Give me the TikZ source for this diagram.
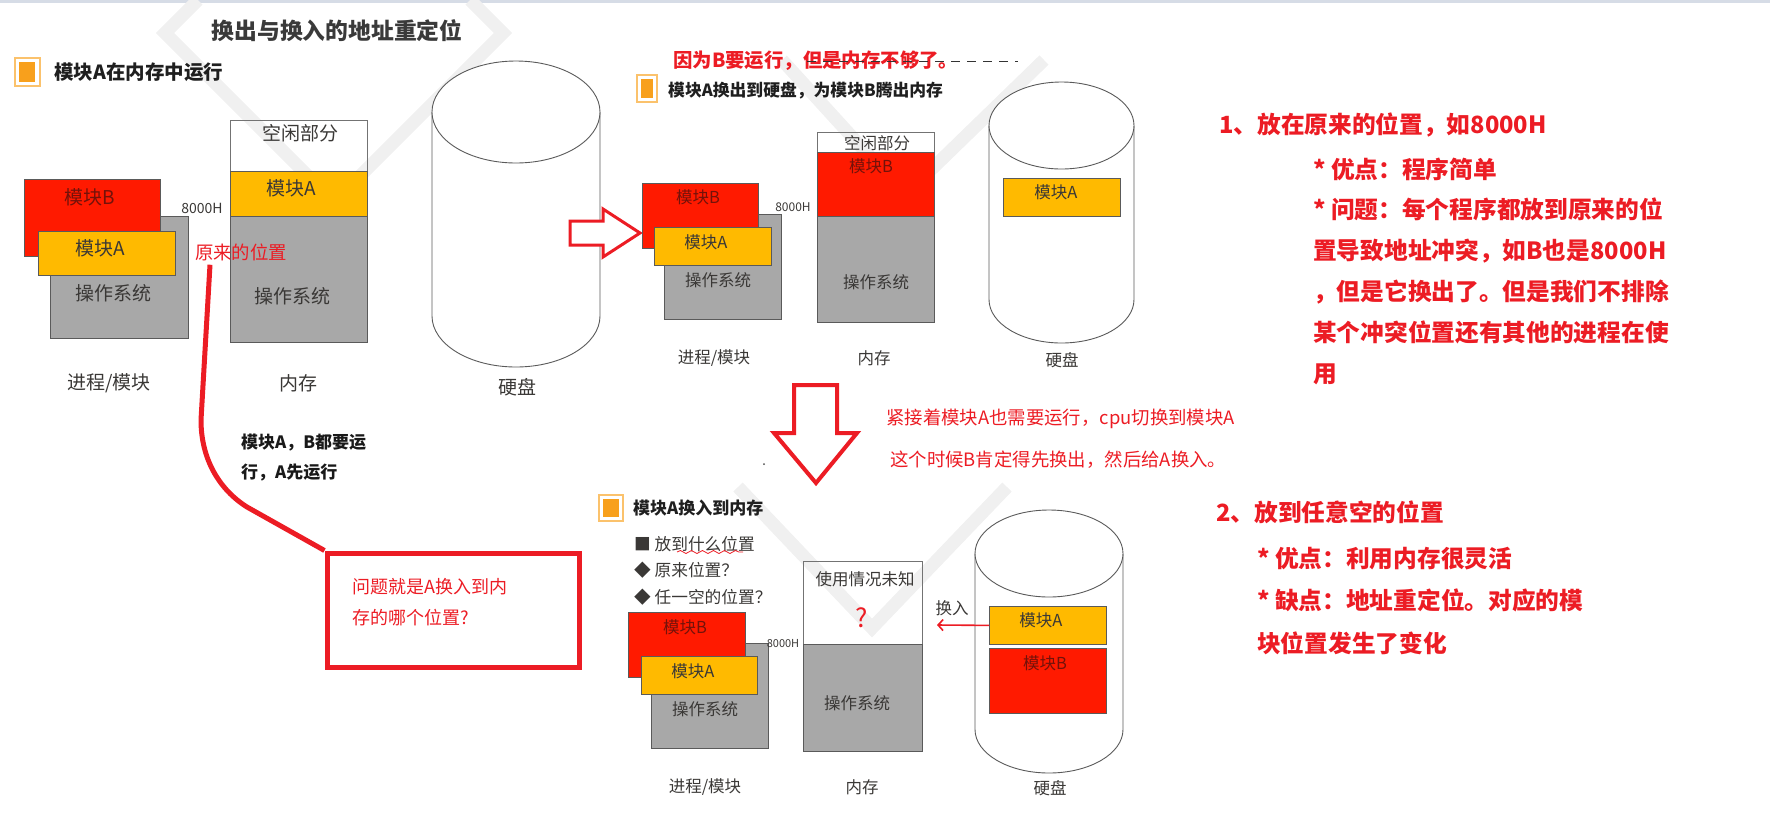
\documentclass[tikz,border=0pt]{standalone}
\usepackage{fontspec}
\setmainfont{Noto Sans CJK SC}
\usetikzlibrary{arrows.meta,decorations.pathmorphing}
\definecolor{modB}{RGB}{255,26,0}
\definecolor{modA}{RGB}{255,186,0}
\definecolor{osgray}{RGB}{168,168,168}
\definecolor{edgegray}{RGB}{90,90,90}
\definecolor{inkgray}{RGB}{58,56,54}
\definecolor{inkred}{RGB}{115,18,10}
\definecolor{titlegray}{RGB}{58,58,58}
\definecolor{notered}{RGB}{236,28,36}
\definecolor{bulframe}{RGB}{251,194,108}
\definecolor{bulfill}{RGB}{248,160,28}
\definecolor{markgray}{RGB}{240,240,240}
\definecolor{topbar}{RGB}{214,220,230}
\tikzset{
  blk/.style={draw=edgegray, line width=0.8pt, inner sep=0pt, anchor=north west},
  blkB/.style={blk, fill=modB},
  blkA/.style={blk, fill=modA},
  blkOS/.style={blk, fill=osgray},
  blkfree/.style={blk, draw=edgegray!85},
  diskline/.style={draw=edgegray, line width=0.9pt, fill=white},
  lblL/.style={font=\fontsize{19}{22}\selectfont, text=inkgray, inner sep=0pt},
  lblS/.style={font=\fontsize{16.5}{20}\selectfont, text=inkgray, inner sep=0pt},
  addr/.style={text=inkgray, inner sep=0pt},
  bullet/.style={draw=bulframe, line width=2pt, fill=white, inner sep=4pt},
  heading/.style={font=\bfseries\fontsize{16.8}{20}\selectfont, text=black!88, inner sep=0pt, anchor=west},
  note/.style={font=\fontsize{18.4}{22}\selectfont, text=notered, inner sep=0pt},
  listtext/.style={font=\fontsize{16.7}{26.5}\selectfont, text=inkgray, inner sep=0pt, anchor=west, align=left},
  sidetext/.style={font=\bfseries\fontsize{23.7}{28}\selectfont, text=notered, inner sep=0pt, anchor=west, align=left},
  hollowarrow/.style={draw=notered, line width=3pt, fill=white, line join=miter},
  swaparrow/.style={draw=notered, line width=1.6pt, -{Straight Barb[length=5pt,width=11pt]}},
  qbox/.style={draw=notered, line width=5pt, inner sep=0pt, anchor=north west},
  linkcurve/.style={draw=notered, line width=5pt},
  watermark/.style={draw=markgray, line width=13pt},
}
\begin{document}
\begin{tikzpicture}[x=1pt,y=-1pt]
\useasboundingbox (0,0) rectangle (1770,815);
\fill[topbar] (0,0) rectangle (1770,2.5);
\draw[watermark] (198,0) -- (165,33) -- (334,202) -- (503,33) -- (470,0);
\draw[watermark] (782,60) -- (905,195) -- (1044,60);
\draw[watermark] (738,487) -- (872,628) -- (1007,487);

\node[font=\bfseries\fontsize{22.8}{26}\selectfont, text=titlegray, inner sep=0pt] (title) at (337,31) {换出与换入的地址重定位};

% slide 1
\node[bullet] (b1) at (27,72) {\color{bulfill}\rule{17pt}{20pt}};
\node[heading, font=\bfseries\fontsize{19.5}{23}\selectfont] (h1) at (54,72) {模块A在内存中运行};
\node[blkOS, minimum width=138pt, minimum height=122pt] (p1OS) at (50,216) {};
\node[blkB, minimum width=136pt, minimum height=77pt] (p1B) at (24,179) {};
\node[blkA, minimum width=137pt, minimum height=44pt] (p1A) at (38,231) {};
\node[lblL, text=inkred] (t1B) at (90,197) {模块B};
\node[lblL] (t1A) at (100,248) {模块A};
\node[lblL] (t1OS) at (113,293) {操作系统};
\node[addr, font=\fontsize{14}{16}\selectfont] (a1) at (202,208) {8000H};
\node[blkfree, minimum width=137pt, minimum height=51pt] (m1F) at (230,120) {};
\node[blkA, minimum width=137pt, minimum height=45pt] (m1A) at (230,171) {};
\node[blkOS, minimum width=137pt, minimum height=126pt] (m1OS) at (230,216) {};
\node[lblL] (t1F) at (300,133) {空闲部分};
\node[lblL] (t1mA) at (291,188) {模块A};
\node[lblL] (t1mOS) at (292,296) {操作系统};
\node[note] (orig) at (241,252) {原来的位置};
\draw[diskline] (432,112) -- (432,316) arc[start angle=180, end angle=360, x radius=84pt, y radius=51pt] -- (600,112);
\draw[diskline] (516,112) ellipse[x radius=84pt, y radius=51pt];
\node[lblL] (l1P) at (109,383) {进程/模块};
\node[lblL] (l1M) at (298,383) {内存};
\node[lblL] (l1D) at (517,387) {硬盘};

% slide 2
\node[note, font=\bfseries\fontsize{19.4}{23}\selectfont, anchor=west] (why) at (673,61) {因为B要运行，但是内存不够了。};
\draw[black!80, line width=0.9pt, dash pattern=on 9pt off 7pt] (807,61) -- (1018,61);
\node[bullet] (b2) at (647,88.5) {\color{bulfill}\rule{12pt}{19pt}};
\node[heading] (h2) at (668,91) {模块A换出到硬盘，为模块B腾出内存};
\draw[hollowarrow] (570,221) -- (603,221) -- (603,209) -- (640,233) -- (603,257) -- (603,245) -- (570,245) -- cycle;
\node[blkOS, minimum width=117pt, minimum height=105pt] (p2OS) at (664,214) {};
\node[blkB, minimum width=116pt, minimum height=65pt] (p2B) at (642,183) {};
\node[blkA, minimum width=117pt, minimum height=38pt] (p2A) at (654,227) {};
\node[lblS, text=inkred] (t2B) at (698,197) {模块B};
\node[lblS] (t2A) at (706,242) {模块A};
\node[lblS] (t2OS) at (718,280) {操作系统};
\node[addr, font=\fontsize{12}{14}\selectfont] (a2) at (793,207) {8000H};
\node[blkfree, minimum width=117pt, minimum height=20pt] (m2F) at (817,132) {};
\node[blkB, minimum width=117pt, minimum height=64pt] (m2B) at (817,152) {};
\node[blkOS, minimum width=117pt, minimum height=106pt] (m2OS) at (817,216) {};
\node[lblS] (t2F) at (877,143) {空闲部分};
\node[lblS, text=inkred] (t2mB) at (871,166) {模块B};
\node[lblS] (t2mOS) at (876,282) {操作系统};
\draw[diskline] (989,125.5) -- (989,299.5) arc[start angle=180, end angle=360, x radius=72.5pt, y radius=43.5pt] -- (1134,125.5);
\draw[diskline] (1061.5,125.5) ellipse[x radius=72.5pt, y radius=43.5pt];
\node[blkA, minimum width=117pt, minimum height=38pt] (d2A) at (1003,178) {};
\node[lblS] (t2dA) at (1056,192) {模块A};
\node[lblS] (l2P) at (714,358) {进程/模块};
\node[lblS] (l2M) at (874,358) {内存};
\node[lblS] (l2D) at (1062,360) {硬盘};

% from slide 2 to slide 3
\draw[hollowarrow, line width=4pt] (794,385) -- (837,385) -- (837,433) -- (857,433) -- (816,483) -- (774,433) -- (794,433) -- cycle;
\node[note, anchor=west] (next1) at (886,419) {紧接着模块A也需要运行，cpu切换到模块A};
\node[note, anchor=west] (next2) at (890,460) {这个时候B肯定得先换出，然后给A换入。};
\fill[black!70] (764,464) circle[radius=1pt];

% slide 3
\node[bullet] (b3) at (611,508) {\color{bulfill}\rule{16pt}{18pt}};
\node[heading, font=\bfseries\fontsize{17}{20}\selectfont] (h3) at (633,508) {模块A换入到内存};
\node[listtext] (q3) at (634,570.5) {■ 放到什么位置\\◆ 原来位置？\\◆ 任一空的位置？};
\draw[notered, line width=0.8pt, decorate, decoration={snake, amplitude=1.5pt, segment length=11pt}] (677,552) -- (743,552);
\node[blkOS, minimum width=117pt, minimum height=105pt] (p3OS) at (651,643) {};
\node[blkB, minimum width=117pt, minimum height=65pt] (p3B) at (628,612) {};
\node[blkA, minimum width=116pt, minimum height=38pt] (p3A) at (641,656) {};
\node[lblS, text=inkred] (t3B) at (685,627) {模块B};
\node[lblS] (t3A) at (693,671) {模块A};
\node[lblS] (t3OS) at (705,709) {操作系统};
\node[addr, font=\fontsize{11}{13}\selectfont] (a3) at (783,644) {8000H};
\node[blkfree, minimum width=119pt, minimum height=83pt] (m3F) at (803,561) {};
\node[blkOS, minimum width=119pt, minimum height=107pt] (m3OS) at (803,644) {};
\node[lblS] (t3F) at (865,579) {使用情况未知};
\node[font=\fontsize{26}{28}\selectfont, text=notered, inner sep=0pt] (t3Q) at (862,618) {?};
\node[lblS] (t3mOS) at (857,703) {操作系统};
\draw[diskline] (975,553.5) -- (975,729.5) arc[start angle=180, end angle=360, x radius=74pt, y radius=43.5pt] -- (1123,553.5);
\draw[diskline] (1049,553.5) ellipse[x radius=74pt, y radius=43.5pt];
\node[blkA, minimum width=117pt, minimum height=38pt] (d3A) at (989,606) {};
\node[blkB, minimum width=117pt, minimum height=65pt] (d3B) at (989,648) {};
\node[lblS] (t3dA) at (1041,620) {模块A};
\node[lblS, text=inkred] (t3dB) at (1045,663) {模块B};
\node[lblS] (swapin) at (952,608) {换入};
\coordinate (inEnd) at (937,625);
\draw[swaparrow] (d3A.west) -- (inEnd);
\node[lblS] (l3P) at (705,787) {进程/模块};
\node[lblS] (l3M) at (862,787) {内存};
\node[lblS] (l3D) at (1050,788) {硬盘};

% notes on the left
\node[font=\bfseries\fontsize{17}{30}\selectfont, text=black!90, inner sep=0pt, anchor=west, align=left] (both) at (241,458) {模块A，B都要运\\行，A先运行};
\node[qbox, minimum width=252pt, minimum height=114pt] (qbox) at (324.5,550.5) {};
\node[note, font=\fontsize{18}{31}\selectfont, anchor=west, align=left] (qtext) at (352,602.5) {问题就是A换入到内\\存的哪个位置?};
\draw[linkcurve] ([xshift=-31pt,yshift=-4pt]orig.south) -- (201,420) .. controls (201,460) and (220,490) .. (247,507) -- (qbox.north west);

% notes on the right
\node[sidetext] (r1) at (1219,125) {1、放在原来的位置，如8000H};
\node[sidetext, font=\bfseries\fontsize{23.7}{40.8}\selectfont] (r1list) at (1313,271) {* 优点：程序简单\\* 问题：每个程序都放到原来的位\\置导致地址冲突，如B也是8000H\\，但是它换出了。但是我们不排除\\某个冲突位置还有其他的进程在使\\用};
\node[sidetext] (r2) at (1216,512) {2、放到任意空的位置};
\node[sidetext, font=\bfseries\fontsize{23.7}{42.5}\selectfont] (r2list) at (1257,600.5) {* 优点：利用内存很灵活\\* 缺点：地址重定位。对应的模\\块位置发生了变化};
\end{tikzpicture}
\end{document}
